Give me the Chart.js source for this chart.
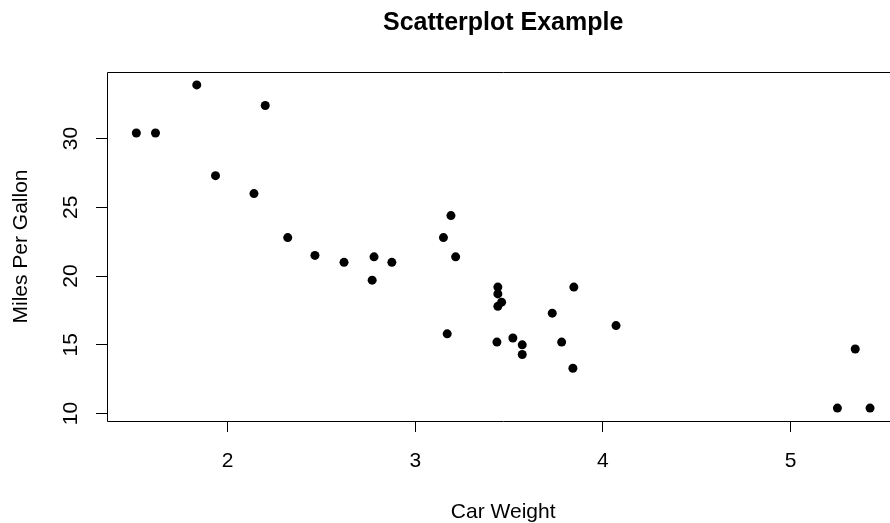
<!DOCTYPE html>
<html>
<head>
<meta charset="utf-8">
<script src="https://cdn.jsdelivr.net/npm/chart.js@4"></script>
<style>
    html, body { margin: 0; padding: 0; background: #fff; overflow: hidden; }
    #wrap { width: 920px; height: 523px; }
</style>
</head>
<body>
<div id="wrap"><canvas id="scatter" width="920" height="523"></canvas></div>
<script>
(() => {
    'use strict';

    // Values
    const carWeight = [2.620, 2.875, 2.320, 3.215, 3.440, 3.460, 3.570, 3.190, 3.150, 3.440, 3.440,
        4.070, 3.730, 3.780, 5.250, 5.424, 5.345, 2.200, 1.615, 1.835, 2.465, 3.520, 3.435, 3.840,
        3.845, 1.935, 2.140, 1.513, 3.170, 2.770, 3.570, 2.780];
    const milesPerGallon = [21.0, 21.0, 22.8, 21.4, 18.7, 18.1, 14.3, 24.4, 22.8, 19.2, 17.8,
        16.4, 17.3, 15.2, 10.4, 10.4, 14.7, 32.4, 30.4, 33.9, 21.5, 15.5, 15.2, 13.3,
        19.2, 27.3, 26.0, 30.4, 15.8, 19.7, 15.0, 21.4];
    const xTicks = [2, 3, 4, 5];
    const yTicks = [10, 15, 20, 25, 30];

    const chartTitle = 'Scatterplot Example';
    const xTitle = 'Car Weight';
    const yTitle = 'Miles Per Gallon';

    const FONT = "'Liberation Sans', Arial, sans-serif";

    // R style range: data range padded by 4% on each side
    const pad = (arr) => {
        const lo = Math.min(...arr), hi = Math.max(...arr);
        const d = (hi - lo) * 0.04;
        return [lo - d, hi + d];
    };
    const [xMin, xMax] = pad(carWeight);
    const [yMin, yMax] = pad(milesPerGallon);

    // Box, title, axis labels drawn the way base R does
    const rDecor = {
        id: 'rDecor',
        afterDraw(chart) {
            const { ctx, chartArea: a, scales } = chart;
            ctx.save();
            // right side of the box falls outside the picture, so only three sides
            ctx.strokeStyle = '#000';
            ctx.lineWidth = 1;
            ctx.beginPath();
            ctx.moveTo(a.right, a.top + 0.5);
            ctx.lineTo(a.left + 0.5, a.top + 0.5);
            ctx.lineTo(a.left + 0.5, a.bottom + 0.5);
            ctx.lineTo(a.right, a.bottom + 0.5);
            ctx.stroke();

            ctx.fillStyle = '#000';
            const midX = (a.left + a.right) / 2;
            const midY = (a.top + a.bottom) / 2;

            ctx.font = `bold 25px ${FONT}`;
            ctx.textAlign = 'center';
            ctx.textBaseline = 'alphabetic';
            ctx.fillText(chartTitle, midX, 30);

            ctx.font = `21px ${FONT}`;
            xTicks.forEach(v => {
                ctx.fillText(String(v), scales.x.getPixelForValue(v), 467);
            });
            ctx.fillText(xTitle, midX, 518);

            yTicks.forEach(v => {
                ctx.save();
                ctx.translate(77, scales.y.getPixelForValue(v));
                ctx.rotate(-Math.PI / 2);
                ctx.fillText(String(v), 0, 0);
                ctx.restore();
            });

            ctx.translate(27, midY);
            ctx.rotate(-Math.PI / 2);
            ctx.fillText(yTitle, 0, 0);
            ctx.restore();
        }
    };

    const axisGrid = {
        display: true,
        drawOnChartArea: false,
        drawTicks: true,
        tickLength: 11,
        color: '#000',
        lineWidth: 1
    };

    new Chart(document.getElementById('scatter'), {
        type: 'scatter',
        data: {
            datasets: [{
                data: carWeight.map((w, i) => ({ x: w, y: milesPerGallon[i] })),
                backgroundColor: '#000',
                borderWidth: 0,
                pointRadius: 4.5,
                pointHoverRadius: 4.5
            }]
        },
        options: {
            responsive: false,
            animation: false,
            events: [],
            layout: { padding: { top: 72, right: 20.6, bottom: 0, left: 0 } },
            plugins: {
                legend: { display: false },
                tooltip: { enabled: false },
                title: { display: false }
            },
            scales: {
                x: {
                    type: 'linear',
                    min: xMin,
                    max: xMax,
                    afterBuildTicks: (s) => { s.ticks = xTicks.map(v => ({ value: v })); },
                    afterFit: (s) => { s.height = 102; },
                    ticks: { display: false },
                    grid: axisGrid,
                    border: { display: false }
                },
                y: {
                    type: 'linear',
                    min: yMin,
                    max: yMax,
                    afterBuildTicks: (s) => { s.ticks = yTicks.map(v => ({ value: v })); },
                    afterFit: (s) => { s.width = 107; },
                    ticks: { display: false },
                    grid: axisGrid,
                    border: { display: false }
                }
            }
        },
        plugins: [rDecor]
    });
})();
</script>
</body>
</html>
